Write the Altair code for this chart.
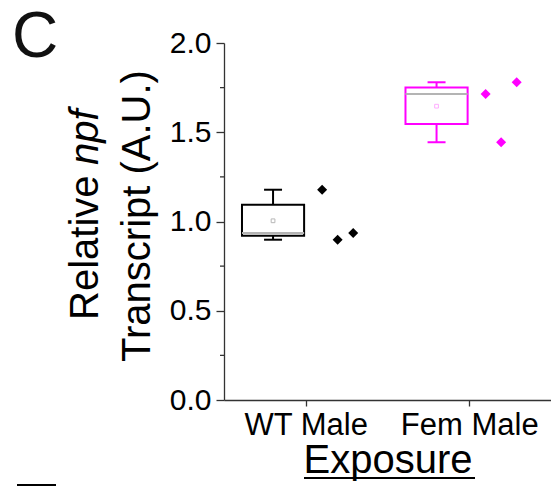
import altair as alt
import numpy as np
import pandas as pd

# Exposure groups and the individual relative npf transcript measurements
groups = ["WT Male", "Fem Male"]
colors = ["#000000", "#ff00ff"]
mean_colors = ["#9a9a9a", "#ff8cff"]
wt_values = [1.178, 0.898, 0.936]
fem_values = [1.714, 1.444, 1.780]

# Box summaries (quartiles as reported)
q1 = [0.920, 1.546]
q3 = [1.094, 1.751]

values = [wt_values, fem_values]

# Layout constants in x-scale units (group i is centred at i + 0.5)
BOX_SHIFT = -0.20
BOX_HALF = 0.19
CAP_HALF = 0.055
POINT_SHIFTS = [0.10, 0.195, 0.29]

box_rows = []
point_rows = []
for i, g in enumerate(groups):
    v = np.array(values[i])
    c = i + 0.5 + BOX_SHIFT
    box_rows.append(dict(
        group=g, color=colors[i], mcolor=mean_colors[i],
        xc=c, xl=c - BOX_HALF, xr=c + BOX_HALF,
        capl=c - CAP_HALF, capr=c + CAP_HALF,
        q1=q1[i], q3=q3[i], median=float(np.median(v)),
        mean=float(v.mean()), lo=float(v.min()), hi=float(v.max()),
    ))
    for j, val in enumerate(values[i]):
        point_rows.append(dict(group=g, color=colors[i],
                               x=i + 0.5 + POINT_SHIFTS[j], value=val))

boxes = pd.DataFrame(box_rows)
points = pd.DataFrame(point_rows)

FONT = "Liberation Sans"
xscale = alt.Scale(domain=[0, 2], nice=False, zero=False)
yscale = alt.Scale(domain=[0, 2], nice=False)

x_axis = alt.Axis(
    values=[0.5, 1.5],
    labelExpr="datum.value < 1 ? 'WT Male' : 'Fem Male'",
    title="Exposure", titleFontSize=40, titleFont=FONT, titleFontWeight="normal",
    titleColor="#000", titlePadding=0,
    labelFont=FONT, labelFontSize=31, labelColor="#000", labelPadding=4,
    tickSize=6, tickColor="#333", domainColor="#333", domainWidth=1.3, tickWidth=1.3,
    grid=False, labelFlush=False,
)
y_axis = alt.Axis(
    values=[0, 0.5, 1.0, 1.5, 2.0], format=".1f", title=None,
    labelFont=FONT, labelFontSize=30, labelColor="#000", labelPadding=5,
    tickSize=8, tickColor="#333", domainColor="#333", domainWidth=1.3, tickWidth=1.3,
    grid=False,
)

base_box = alt.Chart(boxes)

# Whiskers
whisk_lo = base_box.mark_rule(strokeWidth=2).encode(
    x=alt.X("xc:Q", scale=xscale, axis=x_axis),
    y=alt.Y("lo:Q", scale=yscale, axis=y_axis),
    y2="q1:Q",
    color=alt.Color("color:N", scale=None),
)
whisk_hi = base_box.mark_rule(strokeWidth=2).encode(
    x="xc:Q", y="q3:Q", y2="hi:Q", color=alt.Color("color:N", scale=None))
cap_lo = base_box.mark_rule(strokeWidth=2).encode(
    x="capl:Q", x2="capr:Q", y="lo:Q", color=alt.Color("color:N", scale=None))
cap_hi = base_box.mark_rule(strokeWidth=2).encode(
    x="capl:Q", x2="capr:Q", y="hi:Q", color=alt.Color("color:N", scale=None))

# Interquartile boxes
box = base_box.mark_rect(fill="white", strokeWidth=2).encode(
    x="xl:Q", x2="xr:Q", y="q1:Q", y2="q3:Q",
    stroke=alt.Stroke("color:N", scale=None),
)
median = base_box.mark_rule(strokeWidth=2, color="#b4b4b4").encode(
    x="xl:Q", x2="xr:Q", y="median:Q")
mean = base_box.mark_point(shape="square", size=14, strokeWidth=1, filled=False).encode(
    x="xc:Q", y="mean:Q", stroke=alt.Stroke("mcolor:N", scale=None))

# Individual measurements
dots = alt.Chart(points).mark_point(shape="diamond", size=100, filled=True, opacity=1).encode(
    x="x:Q", y="value:Q", color=alt.Color("color:N", scale=None))

# Minor y ticks
minor = alt.Chart(pd.DataFrame({"v": [0.25, 0.75, 1.25, 1.75]})).mark_rule(
    color="#333", strokeWidth=1.3).encode(
    y="v:Q", x=alt.value(-4), x2=alt.value(0))

# Two-line y title, with the gene name in italics
lbl = pd.DataFrame({"a": [0]})
t_rel = alt.Chart(lbl).mark_text(text="Relative", angle=270, align="left",
                                 baseline="alphabetic", font=FONT, fontSize=40,
                                 color="#000").encode(x=alt.value(-126), y=alt.value(277))
t_npf = alt.Chart(lbl).mark_text(text="npf", angle=270, align="left",
                                 baseline="alphabetic", font=FONT, fontSize=40,
                                 fontStyle="italic", color="#000").encode(
    x=alt.value(-126), y=alt.value(122))
t_tr = alt.Chart(lbl).mark_text(text="Transcript (A.U.)", angle=270, align="center",
                                baseline="alphabetic", font=FONT, fontSize=40,
                                color="#000").encode(x=alt.value(-74), y=alt.value(173))

# Panel letter
t_c = alt.Chart(lbl).mark_text(text="C", align="left", baseline="alphabetic",
                               font=FONT, fontSize=64, color="#111").encode(
    x=alt.value(-212), y=alt.value(14))

# Underline for the x title, and the short stroke at the bottom left
underline = alt.Chart(lbl).mark_rule(color="#000", strokeWidth=2).encode(
    x=alt.value(80), x2=alt.value(251), y=alt.value(435))
stroke_bl = alt.Chart(lbl).mark_rule(color="#000", strokeWidth=2).encode(
    x=alt.value(-207), x2=alt.value(-168), y=alt.value(442))

chart = alt.layer(
    whisk_lo, whisk_hi, cap_lo, cap_hi, box, median, mean, dots, minor,
    t_rel, t_npf, t_tr, t_c, underline, stroke_bl,
).properties(
    width=327, height=357,
    autosize=alt.AutoSizeParams(type="none"),
    padding={"left": 224, "top": 43, "right": 0, "bottom": 87},
).configure_view(stroke=None)

chart.save("out.html", embed_options={"renderer": "svg", "actions": False})
